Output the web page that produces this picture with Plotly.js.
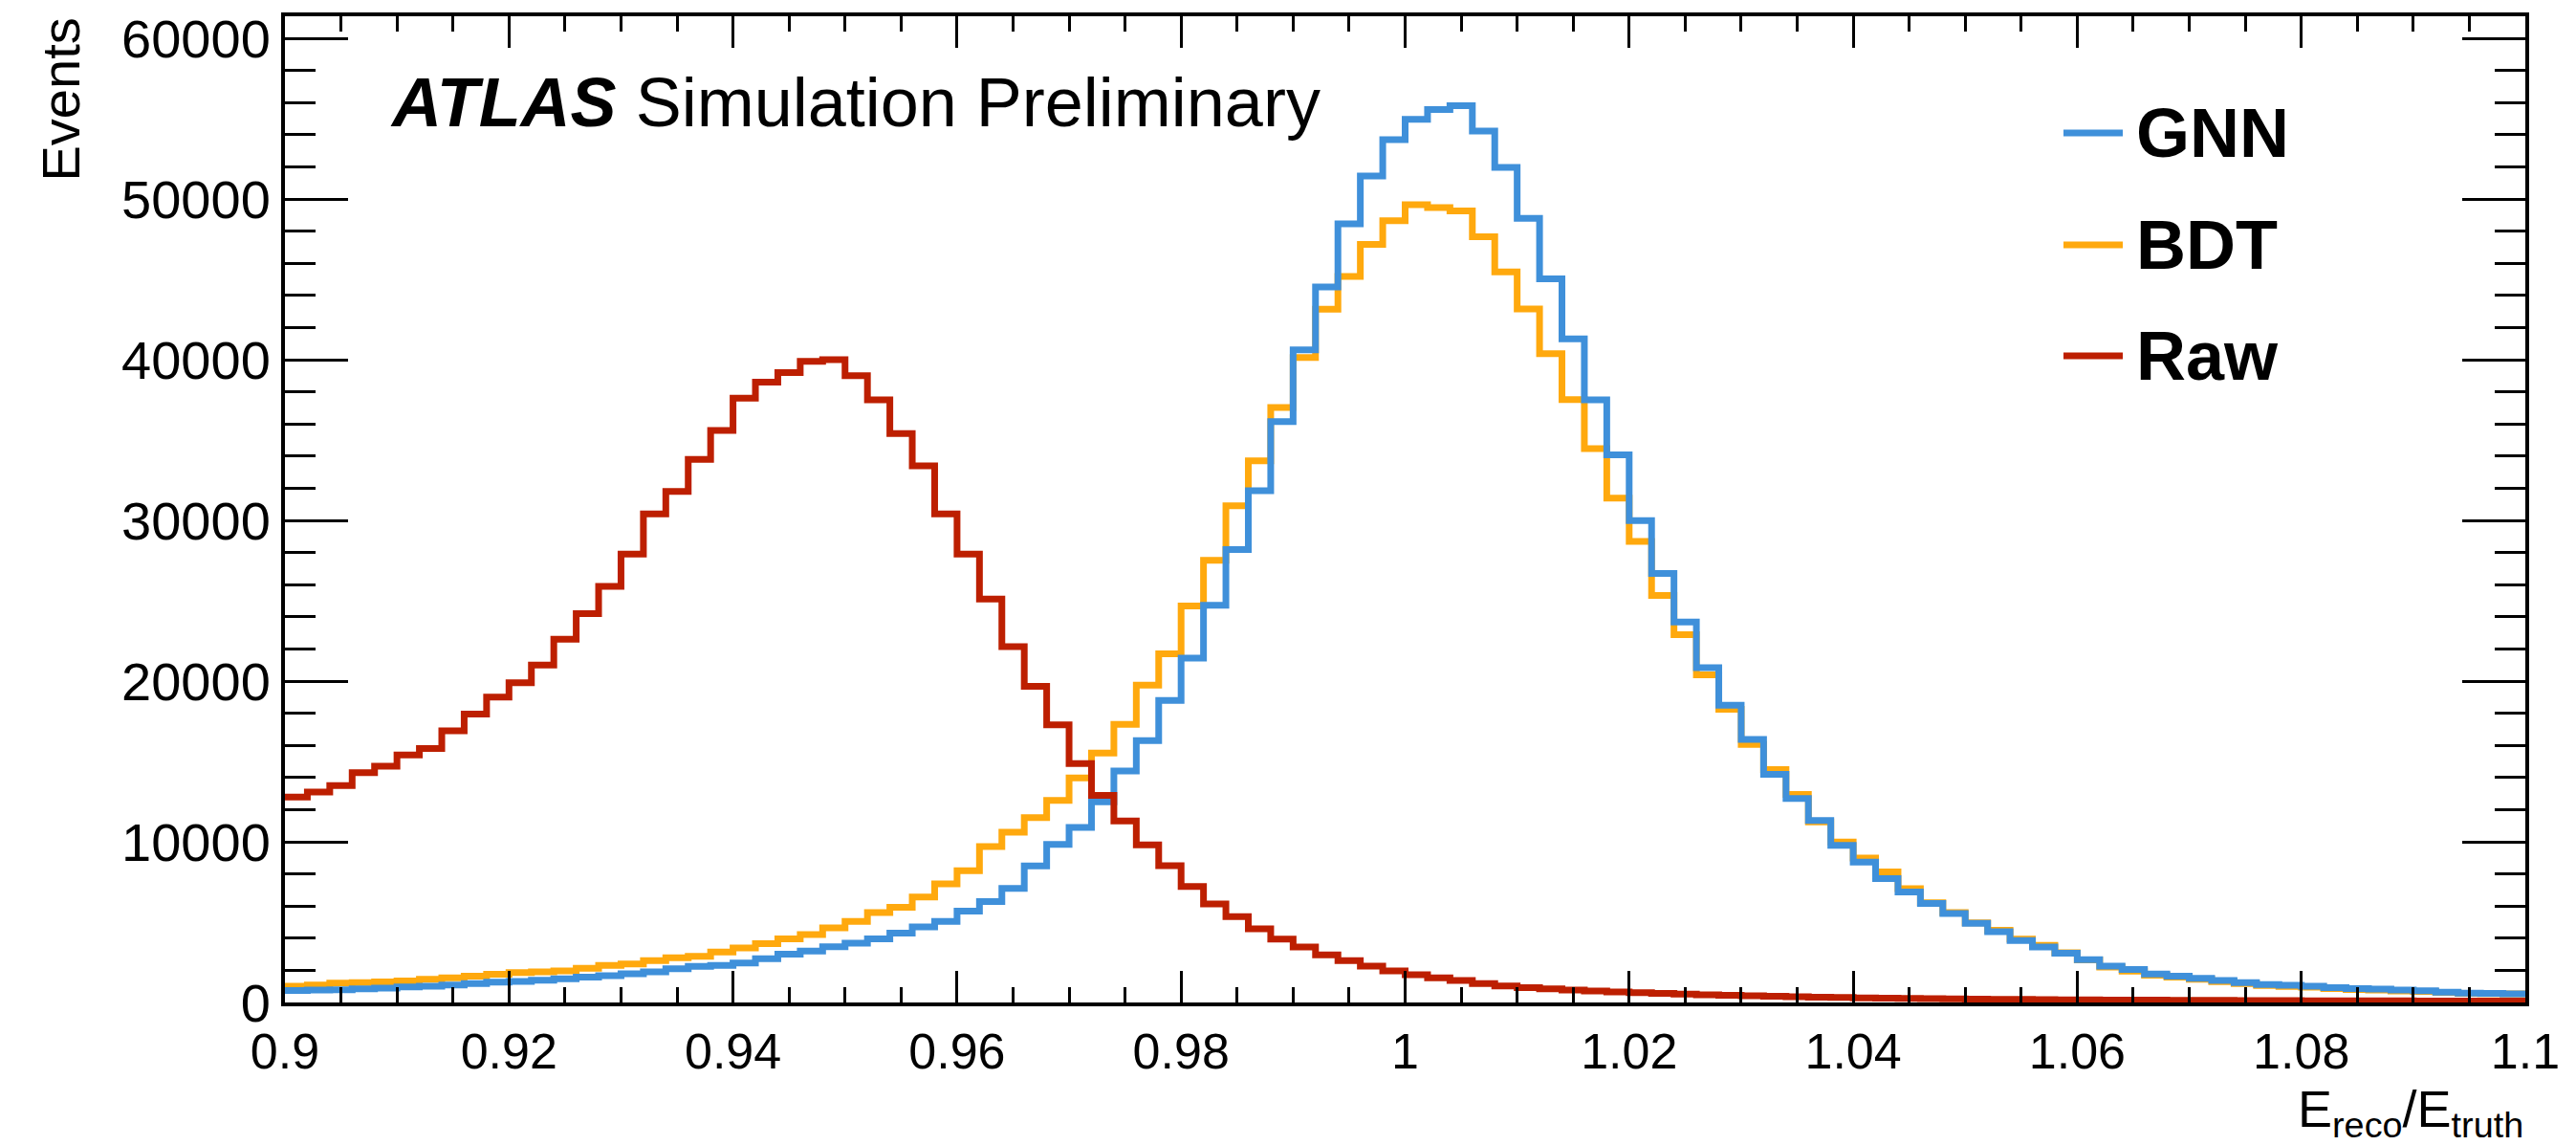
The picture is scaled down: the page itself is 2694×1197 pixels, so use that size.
<!DOCTYPE html>
<html>
<head>
<meta charset="utf-8">
<script src="https://cdn.plot.ly/plotly-3.0.1.min.js"></script>
<style>html,body{margin:0;padding:0;background:#fff;}#chart{width:2694px;height:1197px;}</style>
</head>
<body>
<div id="chart"></div>
<script>
// Binning: 100 bins of width 0.002 between 0.9 and 1.1
const binLow = 0.9;
const binWidth = 0.002;

// Events per bin
const gnn = [
  740, 770, 790, 850, 900, 960, 1010, 1090, 1170, 1260,
  1310, 1390, 1480, 1580, 1670, 1780, 1910, 2100, 2240, 2300,
  2460, 2730, 3000, 3200, 3470, 3690, 3960, 4320, 4700, 5050,
  5680, 6280, 7100, 8500, 9840, 10890, 12480, 14400, 16300, 18800,
  21430, 24720, 28180, 31850, 36150, 40610, 44520, 48450, 51430, 53690,
  54960, 55570, 55810, 54220, 51960, 48800, 45030, 41300, 37500, 34080,
  29980, 26700, 23670, 20830, 18490, 16370, 14190, 12700, 11330, 9770,
  8740, 7710, 6870, 6160, 5530, 4920, 4400, 3850, 3450, 3060,
  2660, 2260, 2060, 1770, 1630, 1510, 1370, 1230, 1110, 1070,
  1010, 930, 870, 830, 770, 730, 640, 580, 560, 540
];
const bdt = [
  1010, 1090, 1200, 1230, 1280, 1340, 1450, 1530, 1640, 1750,
  1860, 1910, 1970, 2130, 2300, 2400, 2600, 2790, 2870, 3140,
  3390, 3660, 3960, 4230, 4640, 5050, 5600, 5930, 6560, 7380,
  8200, 9700, 10600, 11500, 12580, 13970, 15520, 17300, 19740, 21690,
  24670, 27510, 30910, 33700, 37020, 40130, 43140, 45180, 47180, 48640,
  49650, 49460, 49250, 47650, 45460, 43160, 40380, 37520, 34470, 31380,
  28690, 25330, 22880, 20390, 18240, 16060, 14500, 12950, 11230, 9990,
  8990, 8120, 7090, 6200, 5600, 4960, 4500, 3950, 3550, 3100,
  2650, 2200, 1950, 1700, 1570, 1450, 1300, 1170, 1050, 1000,
  950, 870, 800, 770, 720, 690, 620, 570, 550, 530
];
const raw = [
  12790, 13100, 13500, 14300, 14700, 15400, 15800, 16900, 17950, 19000,
  19900, 21000, 22600, 24200, 25900, 27900, 30400, 31800, 33800, 35600,
  37600, 38600, 39200, 39900, 40000, 39000, 37500, 35400, 33400, 30400,
  27900, 25100, 22140, 19670, 17280, 14860, 12880, 11290, 9800, 8510,
  7220, 6130, 5340, 4580, 3950, 3450, 2960, 2600, 2260, 1960,
  1730, 1530, 1370, 1170, 1030, 930, 850, 780, 720, 660,
  610, 560, 520, 480, 440, 410, 380, 350, 330, 310,
  290, 270, 250, 235, 220, 210, 200, 190, 180, 170,
  160, 155, 150, 145, 140, 135, 130, 125, 120, 115,
  110, 108, 105, 100, 98, 95, 92, 90, 88, 85
];

const seriesNames = ["GNN", "BDT", "Raw"];
const seriesColors = ["#3f90da", "#ffa90e", "#bd1f01"];

const xTickVals = [0.9, 0.92, 0.94, 0.96, 0.98, 1.0, 1.02, 1.04, 1.06, 1.08, 1.1];
const xTickText = ["0.9", "0.92", "0.94", "0.96", "0.98", "1", "1.02", "1.04", "1.06", "1.08", "1.1"];
const yTickVals = [0, 10000, 20000, 30000, 40000, 50000, 60000];
const yTickText = ["0", "10000", "20000", "30000", "40000", "50000", "60000"];

const xTitle = "E<sub>reco</sub>/E<sub>truth</sub>";
const yTitle = "Events";

// step outline of a histogram: left edges + final right edge
function stepTrace(values, name, color) {
  const xs = [], ys = [];
  for (let i = 0; i < values.length; i++) {
    xs.push(+(binLow + i * binWidth).toFixed(6));
    ys.push(values[i]);
  }
  xs.push(+(binLow + values.length * binWidth).toFixed(6));
  ys.push(values[values.length - 1]);
  return {
    type: "scatter", mode: "lines", name: name, x: xs, y: ys,
    line: {shape: "hv", color: color, width: 7},
    showlegend: false, hoverinfo: "skip"
  };
}

const data = [
  stepTrace(bdt, seriesNames[1], seriesColors[1]),
  stepTrace(gnn, seriesNames[0], seriesColors[0]),
  stepTrace(raw, seriesNames[2], seriesColors[2])
];

const W = 2694, H = 1197;
const M = {l: 298, r: 53, t: 17, b: 149};
const PW = W - M.l - M.r, PH = H - M.t - M.b;
const px = v => (v - M.l) / PW;          // pixel -> paper x
const py = v => (H - M.b - v) / PH;      // pixel -> paper y

const font = "Liberation Sans, Arial, Helvetica, sans-serif";

const legendRows = [139, 256, 372];
const shapes = [], annotations = [];
for (let i = 0; i < 3; i++) {
  shapes.push({type: "line", xref: "paper", yref: "paper",
    x0: px(2158), x1: px(2220), y0: py(legendRows[i]), y1: py(legendRows[i]),
    line: {color: seriesColors[i], width: 7}});
  annotations.push({xref: "paper", yref: "paper", x: px(2232), y: py(legendRows[i]),
    xanchor: "left", yanchor: "middle", showarrow: false,
    text: "<b>" + seriesNames[i] + "</b>", font: {family: font, size: 72, color: "#000"}});
}
annotations.push({xref: "paper", yref: "paper", x: px(406), y: py(107),
  xanchor: "left", yanchor: "middle", showarrow: false,
  text: "<b><i>ATLAS</i></b> Simulation Preliminary", font: {family: font, size: 72, color: "#000"}});
annotations.push({xref: "paper", yref: "paper", x: px(63), y: 1.0,
  xanchor: "center", yanchor: "top", showarrow: false, textangle: -90,
  text: yTitle, font: {family: font, size: 56, color: "#000"}});
annotations.push({xref: "paper", yref: "paper", x: px(2641), y: py(1163),
  xanchor: "right", yanchor: "middle", showarrow: false,
  text: xTitle, font: {family: font, size: 54, color: "#000"}});

const layout = {
  width: W, height: H,
  margin: {l: M.l, r: M.r, t: M.t, b: M.b, pad: 0},
  paper_bgcolor: "#fff", plot_bgcolor: "#fff",
  showlegend: false,
  xaxis: {
    range: [0.9, 1.1], tickmode: "array", tickvals: xTickVals, ticktext: xTickText,
    ticks: "inside", ticklen: 33, tickwidth: 3, tickcolor: "#000",
    showline: true, linewidth: 4, linecolor: "#000", mirror: "ticks",
    showgrid: false, zeroline: false, ticklabelstandoff: 3,
    tickfont: {family: font, size: 52, color: "#000"},
    minor: {tick0: 0.9, dtick: 0.005, ticks: "inside", ticklen: 16, tickwidth: 3, tickcolor: "#000", showgrid: false}
  },
  yaxis: {
    range: [0, 61370], tickmode: "array", tickvals: yTickVals, ticktext: yTickText,
    ticks: "inside", ticklen: 66, tickwidth: 3, tickcolor: "#000",
    showline: true, linewidth: 4, linecolor: "#000", mirror: "ticks",
    showgrid: false, zeroline: false,
    tickfont: {family: font, size: 56, color: "#000"},
    minor: {tick0: 0, dtick: 2000, ticks: "inside", ticklen: 32, tickwidth: 3, tickcolor: "#000", showgrid: false}
  },
  shapes: shapes,
  annotations: annotations
};

Plotly.newPlot("chart", data, layout, {displayModeBar: false, staticPlot: true});
</script>
</body>
</html>
